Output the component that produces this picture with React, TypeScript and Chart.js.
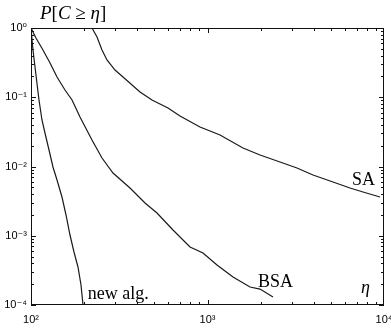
import React, { useEffect, useRef } from "react";
import { Chart, registerables } from "chart.js";

Chart.register(...registerables);

// eta values (x) and P[C >= eta] values (y) for each algorithm
const etaNewAlg = [100, 102.6, 106.7, 111.0, 115.4, 120.0, 126.5, 133.2, 140.4, 149.8, 157.9, 166.3, 175.2, 184.6, 192.0, 197.1];
const probNewAlg = [1, 0.4813, 0.2096, 0.09127, 0.04693, 0.03046, 0.01731, 0.00984, 0.006383, 0.003627, 0.001994, 0.001025, 0.0005826, 0.0003538, 0.0001945, 0.0001];

const etaBSA = [100, 106.7, 116.9, 128.2, 140.4, 155.8, 170.8, 189.5, 221.6, 252.5, 291.5, 363.8, 442.5, 517.5, 637.6, 796, 943, 1132, 1395, 1741, 1984, 2350];
const probBSA = [1, 0.7172, 0.4813, 0.3123, 0.1961, 0.1272, 0.09127, 0.05185, 0.02413, 0.01327, 0.008056, 0.004892, 0.002971, 0.002131, 0.00121, 0.000688, 0.000564, 0.000378, 0.000254, 0.000182, 0.00017, 0.0001304];

const etaSA = [100, 221.6, 236.6, 252.5, 269.5, 299.2, 332.1, 414.5, 484.8, 597.3, 698.6, 906.8, 1177, 1589, 1984, 2575, 3214, 3960, 5141, 6417, 7604, 9492];
const probSA = [1, 1, 0.7414, 0.4813, 0.3451, 0.2474, 0.1961, 0.1191, 0.09127, 0.06995, 0.05361, 0.03719, 0.0285, 0.0185, 0.014658, 0.011616, 0.009514, 0.007539, 0.005974, 0.004893, 0.004282, 0.003627];

const xTickValues = [100, 1000, 10000];
const xTickLabels = ["10²", "10³", "10⁴"];
const yTickValues = [1, 0.1, 0.01, 0.001, 0.0001];
const yTickLabels = ["10⁰", "10⁻¹", "10⁻²", "10⁻³", "10⁻⁴"];

const curveNames = ["new alg.", "BSA", "SA"];
const curveLabelEta = [210, 1932, 6590];
const curveLabelProb = [0.000122, 0.000182, 0.0054];
const xAxisSymbol = "η";
const xAxisSymbolEta = 7409;
const xAxisSymbolProb = 0.000149;

const titleParts = [
  { t: "P", italic: true },
  { t: "[", italic: false },
  { t: "C", italic: true },
  { t: " ≥ ", italic: false },
  { t: "η", italic: true },
  { t: "]", italic: false },
];

const SERIF = "'Liberation Serif', 'Times New Roman', serif";
const SANS = "'Liberation Sans', Arial, 'DejaVu Sans', sans-serif";

const framePlugin = {
  id: "framePlugin",
  afterDatasetsDraw(chart: any) {
    const { ctx, chartArea: a, scales } = chart;
    const x = scales.x;
    const y = scales.y;
    ctx.save();
    ctx.strokeStyle = "#111";
    ctx.lineWidth = 1;
    ctx.strokeRect(a.left + 0.5, a.top + 0.5, a.right - a.left - 1, a.bottom - a.top - 1);
    ctx.beginPath();
    // x ticks (inside, top and bottom)
    for (let d = 100; d < 10000; d *= 10) {
      for (let k = 1; k <= 9; k++) {
        const v = k * d;
        const px = Math.round(x.getPixelForValue(v)) + 0.5;
        const len = k === 1 ? 5 : 3;
        ctx.moveTo(px, a.bottom);
        ctx.lineTo(px, a.bottom - len);
        ctx.moveTo(px, a.top);
        ctx.lineTo(px, a.top + len);
      }
    }
    // y ticks (inside, left and right)
    for (let d = 0.0001; d < 1; d *= 10) {
      for (let k = 1; k <= 9; k++) {
        const v = k * d;
        const py = Math.round(y.getPixelForValue(v)) + 0.5;
        const len = k === 1 ? 5 : 3;
        ctx.moveTo(a.left, py);
        ctx.lineTo(a.left + len, py);
        ctx.moveTo(a.right, py);
        ctx.lineTo(a.right - len, py);
      }
    }
    ctx.stroke();

    // curve labels
    ctx.fillStyle = "#000";
    ctx.textBaseline = "alphabetic";
    ctx.textAlign = "left";
    ctx.font = `18px ${SERIF}`;
    curveNames.forEach((name, i) => {
      ctx.fillText(name, x.getPixelForValue(curveLabelEta[i]), y.getPixelForValue(curveLabelProb[i]));
    });
    ctx.font = `italic 18px ${SERIF}`;
    ctx.fillText(xAxisSymbol, x.getPixelForValue(xAxisSymbolEta), y.getPixelForValue(xAxisSymbolProb));

    // title P[C >= eta]
    let tx = a.left + 9;
    const ty = a.top - 9;
    titleParts.forEach((p) => {
      ctx.font = `${p.italic ? "italic " : ""}19px ${SERIF}`;
      ctx.fillText(p.t, tx, ty);
      tx += ctx.measureText(p.t).width;
    });
    ctx.restore();
  },
};

export default function App() {
  const ref = useRef<HTMLCanvasElement | null>(null);

  useEffect(() => {
    if (!ref.current) return;
    const mk = (xs: number[], ys: number[]) => xs.map((v, i) => ({ x: v, y: ys[i] }));
    const lineStyle = {
      borderColor: "#1a1a1a",
      borderWidth: 1.2,
      pointRadius: 0,
      tension: 0,
      fill: false,
    };
    const chart = new Chart(ref.current, {
      type: "line",
      data: {
        datasets: [
          { label: curveNames[0], data: mk(etaNewAlg, probNewAlg), ...lineStyle },
          { label: curveNames[1], data: mk(etaBSA, probBSA), ...lineStyle },
          { label: curveNames[2], data: mk(etaSA, probSA), ...lineStyle },
        ],
      },
      options: {
        animation: false,
        responsive: false,
        maintainAspectRatio: false,
        devicePixelRatio: 1,
        layout: { padding: { top: 28, right: 7, bottom: 0, left: 0 } },
        plugins: { legend: { display: false }, tooltip: { enabled: false }, title: { display: false } },
        scales: {
          x: {
            type: "logarithmic",
            min: 100,
            max: 10000,
            grid: { display: false, drawTicks: false },
            border: { display: false },
            ticks: {
              autoSkip: false,
              maxRotation: 0,
              padding: 8,
              color: "#000",
              font: { family: SANS, size: 11 },
              callback: (_v: any, i: number) => xTickLabels[i],
            },
            afterBuildTicks: (s: any) => {
              s.ticks = xTickValues.map((v) => ({ value: v, major: true }));
            },
            afterFit: (s: any) => {
              s.height = 23;
              s.paddingLeft = 0;
              s.paddingRight = 0;
            },
          },
          y: {
            type: "logarithmic",
            min: 0.0001,
            max: 1,
            grid: { display: false, drawTicks: false },
            border: { display: false },
            ticks: {
              autoSkip: false,
              padding: 4,
              color: "#000",
              font: { family: SANS, size: 11 },
              callback: (_v: any, i: number) => yTickLabels[i],
            },
            afterBuildTicks: (s: any) => {
              s.ticks = yTickValues.map((v) => ({ value: v, major: true }));
            },
            afterFit: (s: any) => {
              s.width = 31;
              s.paddingTop = 0;
              s.paddingBottom = 0;
            },
          },
        },
      } as any,
      plugins: [framePlugin],
    });
    return () => chart.destroy();
  }, []);

  return (
    <div style={{ position: "absolute", left: 0, top: 0, width: 391, height: 328, background: "#fff" }}>
      <canvas ref={ref} width={391} height={328} style={{ display: "block" }} />
    </div>
  );
}
